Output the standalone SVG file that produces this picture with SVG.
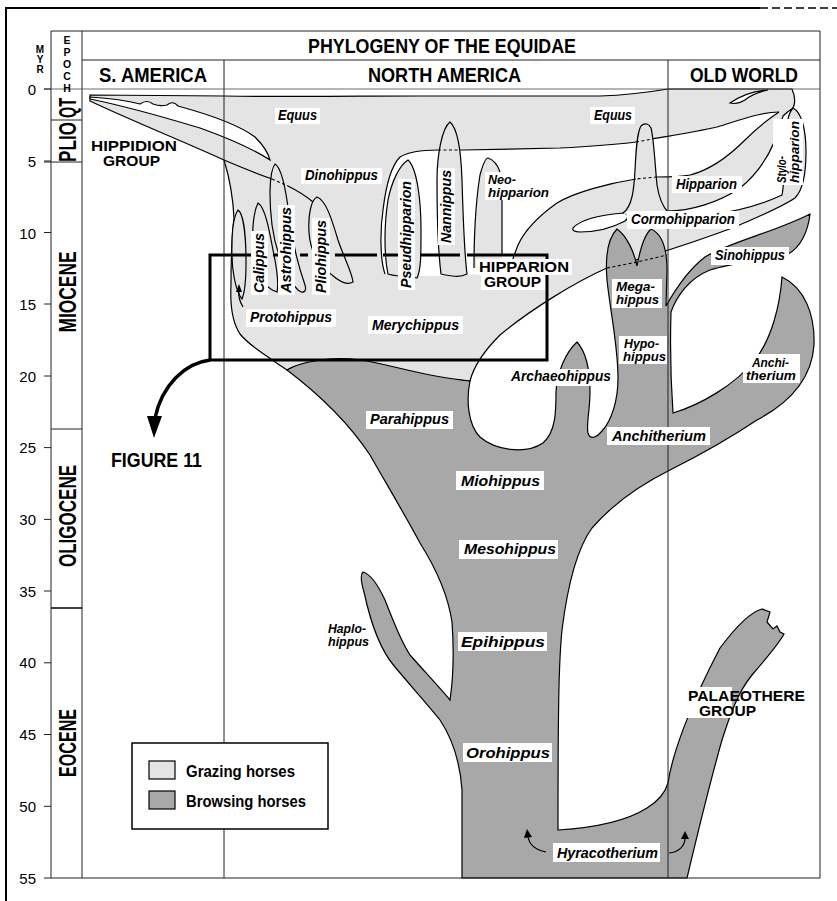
<svg xmlns="http://www.w3.org/2000/svg" width="837" height="901" viewBox="0 0 837 901">
<style>
.f{font-family:"Liberation Sans",Arial,sans-serif;font-weight:bold}
.lab{font-family:"Liberation Sans",Arial,sans-serif;font-weight:bold;font-style:italic;font-size:14px}
.lab2{font-size:12px}
.vert{writing-mode:vertical-rl;text-orientation:upright}
.ln{fill:none;stroke:#000;stroke-width:1.2}
.dsh{fill:none;stroke:#000;stroke-width:1.1;stroke-dasharray:3 2.5}
.grid{fill:none;stroke:#222;stroke-width:1}
.bg{fill:#fff}
.lt{fill:#e4e4e4}
.dk{fill:#a8a8a8}
.st{stroke:#000;stroke-width:1.2}
</style>
<rect width="837" height="901" fill="#fff"/>

<g id="grazing">
<path class="lt st" d="M90,95 L224,96 C300,97 360,96 420,96 L600,96 C630,95 650,92 668,89 L792,89 C795,96 796,102 793,108 C801,112 806,128 806,152 C806,175 803,190 795,198 C780,208 760,216 735,227 C700,240 660,254 607,268 C575,282 530,310 500,335 C485,350 474,365 470,381 C430,380 400,368 370,362 C340,357 305,360 287,370 C268,357 250,346 240,334 C232,322 230,305 231,285 C231,260 232,235 234,218 C233,198 229,176 224,160 C180,140 130,120 90,101 Z"/>
<path class="bg st" d="M90,97 C105,98 125,100 140,104 Q147,99 153,104 C158,106 163,106 167,105 Q173,100 178,106 C200,112 235,122 255,137 C263,145 268,152 270,160 C250,147 225,137 200,128 C160,116 120,105 90,99 Z"/>
<path class="bg" d="M400,157 C408,152 420,150 440,150 L560,148 C600,146 620,144 637,142 C660,138 690,134 717,127 C737,121 760,112 779,112 C770,118 755,130 745,140 C730,155 710,170 690,175 C675,178 660,177 640,179 C610,183 575,192 557,203 C540,215 525,230 518,245 C515,255 513,262 512,270 C480,276 420,278 385,274 C380,260 380,230 383,210 C386,185 392,165 400,157 Z"/>
<path class="bg st" d="M667,211 C690,211 718,203 740,188 C760,172 775,148 783,116 C787,112 790,110 793,108 C789,112 787,120 786,132 C785,150 785,180 782,195 C765,203 740,211 710,215 C690,217 675,215 667,211 Z"/>
<path class="bg st" d="M730,103 C740,96 752,91 768,90 C758,92 750,96 745,100 C740,103 734,104 730,103 Z"/>
<path class="bg st" d="M573,228 C580,220 600,215 623,213 C629,214 629,218 625,221 C612,228 595,232 580,232 C574,232 572,230 573,228 Z"/>
<path class="lt" d="M623,213 C632,207 634,190 635,170 C636,150 637,132 641,126 C645,122 649,124 651,128 C654,140 655,165 657,185 C659,198 662,206 668,212 L640,222 Z"/>
<path class="ln" d="M623,213 C632,207 634,190 635,170 C636,150 637,132 641,126 C645,122 649,124 651,128 C654,140 655,165 657,185 C659,198 662,206 668,212"/>
<path id="sp-left" class="lt st" d="M238,210 C244,214 246,240 246,262 C246,280 245,292 242,299 C236,292 231,270 232,245 C232,228 234,216 238,210 Z"/>
<path id="sp-calippus" class="lt st" d="M258,203 C266,208 270,235 274,255 C277,270 279,283 277,292 C270,290 260,282 255,265 C251,245 252,215 258,203 Z"/>
<path id="sp-astrohippus" class="lt st" d="M275,164 C282,168 286,190 289,215 C292,240 298,265 305,285 C307,292 303,294 298,290 C288,280 276,255 272,225 C269,200 269,172 275,164 Z"/>
<path id="sp-pliohippus" class="lt st" d="M317,197 C326,200 332,220 338,240 C344,258 352,272 353,282 C348,285 340,282 332,275 C318,265 310,250 309,232 C308,215 311,200 317,197 Z"/>
<path id="sp-pseudhipparion" class="lt st" d="M408,160 C417,168 421,200 421,230 C421,255 421,270 417,278 C405,276 392,276 388,274 C384,255 384,225 388,200 C392,180 400,165 408,160 Z"/>
<path id="sp-nannippus" class="lt st" d="M450,122 C457,128 461,150 462,180 C463,215 464,250 467,274 C460,278 450,276 441,274 C438,250 437,210 437,180 C437,155 442,128 450,122 Z"/>
<path class="lt" d="M474,268 C474,240 476,200 480,175 C483,164 486,158 488,158 C494,160 498,166 500,172 L502,200 L502,268 Z"/>
<path class="ln" d="M474,268 C474,240 476,200 480,175 C483,164 486,158 488,158 C494,160 498,166 500,172"/>
<path class="ln" d="M400,157 C408,152 420,150 438,150"/>
<path class="dsh" d="M438,150 H463"/>
<path class="ln" d="M463,150 L560,148 C600,146 620,144 636,142"/>
<path class="dsh" d="M636,142 L652,139"/>
<path class="ln" d="M652,139 C675,135 695,132 717,127 C737,121 760,112 779,112"/>
<path class="ln" d="M385,274 C380,260 380,230 383,210 C386,185 392,165 400,157"/>
<path class="ln" d="M779,112 C770,118 755,130 745,140 C730,155 710,170 690,175 C680,177 668,177 657,177"/>
<path class="dsh" d="M657,177 L636,179"/>
<path class="ln" d="M636,179 C610,183 575,192 557,203 C540,215 525,230 518,245 C515,253 513,258 512,262"/>
<path class="ln" d="M224,160 C245,169 258,174 272,179"/>
<path class="dsh" d="M272,179 L288,186"/>
<path class="ln" d="M288,186 C298,191 306,196 313,202"/>
</g>

<g id="browsing">
<path class="dk st" d="M462,878 L462,790 C460,762 452,738 440,720 C428,705 410,685 395,667 C380,650 370,620 364,592 C361,582 360,575 363,572 C370,574 378,585 385,600 C393,620 400,640 410,655 C425,672 440,688 450,700 C453,680 454,650 452,622 C448,595 437,570 420,543 C405,515 390,490 370,455 C350,425 320,395 287,370 C300,362 330,356 360,360 C390,364 420,376 470,381 C466,400 468,425 480,437 C495,450 525,455 543,443 C556,432 556,410 556,392 C557,372 566,352 577,342 C586,352 590,370 590,392 C590,410 586,425 588,433 C590,440 596,438 602,431 C612,420 618,400 618,378 C618,345 610,310 607,280 C605,255 608,238 617,229 C627,236 634,252 637,266 C640,250 644,235 651,229 C662,234 667,250 667,270 L666,306 C675,290 688,270 705,257 C730,242 775,232 810,214 C808,232 800,248 788,254 C765,260 735,262 710,270 C690,278 677,295 671,312 C670,345 671,385 673,413 C700,405 735,385 755,360 C772,338 780,305 782,277 C805,288 815,315 814,345 C812,375 795,400 757,420 C730,438 700,455 670,470 C640,485 612,505 592,528 C576,550 567,590 562,630 C559,660 558,700 558,830 C590,828 625,822 647,808 C660,800 666,790 668,783 C672,755 690,705 720,648 C735,628 750,612 762,609 L770,612 L767,622 L773,629 L777,626 L780,632 L784,634 C778,645 765,660 752,675 C738,692 730,715 722,740 C712,775 702,815 687,878 Z"/>
<path class="dsh" d="M607,268 L637,262 L667,255"/>
</g>

<g id="frame">
<path d="M6,901 V8 H760" fill="none" stroke="#000" stroke-width="2"/>
<path d="M760,8 H837" fill="none" stroke="#000" stroke-width="1.5" stroke-dasharray="8 4"/>
<path class="grid" d="M51,31 H820 V878 M82,60 H820 M51,31 V878 M82,31 V878 M224,60 V878 M668,60 V878 M44,878 H820"/>
<path d="M44,89 H820" stroke="#444" stroke-width="0.8" fill="none"/>
<path class="grid" d="M51,120 H82 M44,162 H82 M51,429 H82"/>
<path d="M51,608 H82" stroke="#000" stroke-width="1.5"/>
<path class="grid" d="M44,89 H51 M44,161 H51 M44,232.5 H51 M44,304 H51 M44,376 H51 M44,447.6 H51 M44,519.4 H51 M44,591 H51 M44,662.8 H51 M44,734.5 H51 M44,806.3 H51"/>
</g>

<g id="axis-labels">
<g font-family="Liberation Sans, Arial, sans-serif" font-size="15" text-anchor="end">
<text x="36" y="95">0</text><text x="36" y="167">5</text><text x="36" y="239">10</text><text x="36" y="310">15</text><text x="36" y="382">20</text><text x="36" y="453">25</text><text x="36" y="525">30</text><text x="36" y="597">35</text><text x="36" y="668">40</text><text x="36" y="740">45</text><text x="36" y="812">50</text><text x="36" y="884">55</text>
</g>
</g>

<g id="headers" class="f">
<text class="vert" x="40" y="44" font-size="10" letter-spacing="-1">MYR</text>
<text class="vert" x="67" y="34" font-size="10.5" letter-spacing="0">EPOCH</text>
<text x="308" y="53" font-size="21" textLength="268" lengthAdjust="spacingAndGlyphs">PHYLOGENY OF THE EQUIDAE</text>
<text x="99" y="82" font-size="20" textLength="108" lengthAdjust="spacingAndGlyphs">S. AMERICA</text>
<text x="368" y="82" font-size="20" textLength="153" lengthAdjust="spacingAndGlyphs">NORTH AMERICA</text>
<text x="690" y="82" font-size="20" textLength="108" lengthAdjust="spacingAndGlyphs">OLD WORLD</text>
<g font-size="23" text-anchor="middle">
<text transform="translate(76,108) rotate(-90)" textLength="20" lengthAdjust="spacingAndGlyphs">QT</text>
<text transform="translate(76,142) rotate(-90)" textLength="40" lengthAdjust="spacingAndGlyphs">PLIO</text>
<text transform="translate(76,292) rotate(-90)" textLength="81" lengthAdjust="spacingAndGlyphs">MIOCENE</text>
<text transform="translate(76,516) rotate(-90)" textLength="102" lengthAdjust="spacingAndGlyphs">OLIGOCENE</text>
<text transform="translate(76,743) rotate(-90)" textLength="68" lengthAdjust="spacingAndGlyphs">EOCENE</text>
</g>
</g>

<g id="connectors">
<path d="M210,255 H252 M256,255 H267 M273,255 H278 M283,255 H295 M300,255 H308 M313,255 H330 M335,255 H377 M383,255 H412 M420,255 H460 M467,255 H547 M547,253.5 V360 H210 V253.5" fill="none" stroke="#000" stroke-width="3"/>
<path d="M210,360 C185,363 162,385 155,418" fill="none" stroke="#000" stroke-width="3.5"/>
<polygon points="147,416 162,416 154,438" fill="#000"/>
<path class="ln" d="M502,198 V256"/>
<path class="ln" d="M243,307 C240,302 238,297 239,291"/>
<polygon points="236,292 242,292 239,284" fill="#000"/>
<path class="ln" d="M546,852 C536,850 529,845 528,836"/>
<polygon points="524,838 532,837 527,829" fill="#000"/>
<path class="ln" d="M669,853 C679,852 685,846 685,838"/>
<polygon points="681,839 689,839 685,831" fill="#000"/>
</g>

<g id="labels">
<g class="bg">
<rect x="275" y="108" width="45" height="16"/><rect x="590" y="107" width="45" height="17"/>
<rect x="301" y="168" width="81" height="16"/><rect x="485" y="172" width="68" height="28"/>
<rect x="672" y="176" width="70" height="17"/><rect x="627" y="211" width="112" height="18"/>
<rect x="711" y="247" width="78" height="18"/><rect x="612" y="279" width="50" height="29"/>
<rect x="619" y="336" width="48" height="28"/><rect x="743" y="354" width="57" height="29"/>
<rect x="507" y="369" width="108" height="17"/><rect x="607" y="427" width="103" height="18"/>
<rect x="366" y="411" width="87" height="18"/><rect x="368" y="316" width="95" height="18"/>
<rect x="246" y="309" width="90" height="18"/><rect x="456" y="471" width="88" height="19"/>
<rect x="459" y="540" width="99" height="19"/><rect x="458" y="632" width="89" height="19"/>
<rect x="463" y="743" width="89" height="19"/><rect x="553" y="843" width="107" height="19"/>
<rect x="251" y="231" width="17" height="64"/><rect x="278" y="205" width="17" height="90"/>
<rect x="312" y="218" width="18" height="77"/><rect x="398" y="179" width="17" height="111"/>
<rect x="438" y="168" width="17" height="77"/><rect x="773" y="119" width="30" height="66"/>
<rect x="476" y="259" width="96" height="16"/><rect x="481" y="275" width="64" height="15"/>
<rect x="686" y="687" width="46" height="31"/>
</g>
<g class="lab">
<text x="278" y="120" textLength="39" lengthAdjust="spacingAndGlyphs">Equus</text>
<text x="594" y="120" textLength="38" lengthAdjust="spacingAndGlyphs">Equus</text>
<text x="305" y="180" textLength="73" lengthAdjust="spacingAndGlyphs">Dinohippus</text>
<text class="lab2" x="488" y="184" textLength="28" lengthAdjust="spacingAndGlyphs">Neo-</text>
<text class="lab2" x="488" y="197" textLength="61" lengthAdjust="spacingAndGlyphs">hipparion</text>
<text x="676" y="189" textLength="61" lengthAdjust="spacingAndGlyphs">Hipparion</text>
<text x="631" y="224" textLength="104" lengthAdjust="spacingAndGlyphs">Cormohipparion</text>
<text x="715" y="260" textLength="70" lengthAdjust="spacingAndGlyphs">Sinohippus</text>
<text class="lab2" x="616" y="291" textLength="39" lengthAdjust="spacingAndGlyphs">Mega-</text>
<text class="lab2" x="616" y="304" textLength="43" lengthAdjust="spacingAndGlyphs">hippus</text>
<text class="lab2" x="624" y="348" textLength="35" lengthAdjust="spacingAndGlyphs">Hypo-</text>
<text class="lab2" x="623" y="361" textLength="43" lengthAdjust="spacingAndGlyphs">hippus</text>
<text class="lab2" x="752" y="367" textLength="37" lengthAdjust="spacingAndGlyphs">Anchi-</text>
<text class="lab2" x="746" y="380" textLength="50" lengthAdjust="spacingAndGlyphs">therium</text>
<text x="511" y="381" textLength="100" lengthAdjust="spacingAndGlyphs">Archaeohippus</text>
<text x="612" y="441" textLength="94" lengthAdjust="spacingAndGlyphs">Anchitherium</text>
<text x="370" y="424" textLength="79" lengthAdjust="spacingAndGlyphs">Parahippus</text>
<text x="372" y="330" textLength="87" lengthAdjust="spacingAndGlyphs">Merychippus</text>
<text x="250" y="322" textLength="82" lengthAdjust="spacingAndGlyphs">Protohippus</text>
<text x="461" y="486" textLength="79" lengthAdjust="spacingAndGlyphs">Miohippus</text>
<text x="464" y="554" textLength="92" lengthAdjust="spacingAndGlyphs">Mesohippus</text>
<text x="461" y="647" textLength="84" lengthAdjust="spacingAndGlyphs">Epihippus</text>
<text x="466" y="758" textLength="84" lengthAdjust="spacingAndGlyphs">Orohippus</text>
<text x="557" y="858" textLength="101" lengthAdjust="spacingAndGlyphs">Hyracotherium</text>
<text class="lab2" x="328" y="633" textLength="38" lengthAdjust="spacingAndGlyphs">Haplo-</text>
<text class="lab2" x="328" y="646" textLength="41" lengthAdjust="spacingAndGlyphs">hippus</text>
<text transform="translate(264,293) rotate(-90)" textLength="60" lengthAdjust="spacingAndGlyphs">Calippus</text>
<text transform="translate(291,293) rotate(-90)" textLength="86" lengthAdjust="spacingAndGlyphs">Astrohippus</text>
<text transform="translate(326,293) rotate(-90)" textLength="73" lengthAdjust="spacingAndGlyphs">Pliohippus</text>
<text transform="translate(411,288) rotate(-90)" textLength="107" lengthAdjust="spacingAndGlyphs">Pseudhipparion</text>
<text transform="translate(451,243) rotate(-90)" textLength="73" lengthAdjust="spacingAndGlyphs">Nannippus</text>
<text class="lab2" transform="translate(786,183) rotate(-90)" textLength="27" lengthAdjust="spacingAndGlyphs">Stylo-</text>
<text class="lab2" transform="translate(799,183) rotate(-90)" textLength="62" lengthAdjust="spacingAndGlyphs">hipparion</text>
</g>
<g class="f" font-size="14">
<text x="91" y="151" textLength="86" lengthAdjust="spacingAndGlyphs">HIPPIDION</text>
<text x="103" y="166" textLength="57" lengthAdjust="spacingAndGlyphs">GROUP</text>
<text x="479" y="272" textLength="90" lengthAdjust="spacingAndGlyphs">HIPPARION</text>
<text x="484" y="287" textLength="57" lengthAdjust="spacingAndGlyphs">GROUP</text>
<text x="688" y="701" font-size="14.5" textLength="117" lengthAdjust="spacingAndGlyphs">PALAEOTHERE</text>
<text x="699" y="716" font-size="14.5" textLength="57" lengthAdjust="spacingAndGlyphs">GROUP</text>
<text x="111" y="467" font-size="21" textLength="91" lengthAdjust="spacingAndGlyphs">FIGURE 11</text>
</g>
</g>

<g id="legend">
<rect x="132" y="743" width="196" height="86" fill="#fff" stroke="#000" stroke-width="1.5"/>
<rect x="149" y="761" width="26" height="18" class="lt st"/>
<rect x="149" y="791" width="26" height="18" class="dk st"/>
<text class="f" x="186" y="777" font-size="16" textLength="109" lengthAdjust="spacingAndGlyphs">Grazing horses</text>
<text class="f" x="186" y="807" font-size="16" textLength="120" lengthAdjust="spacingAndGlyphs">Browsing horses</text>
</g>
</svg>
